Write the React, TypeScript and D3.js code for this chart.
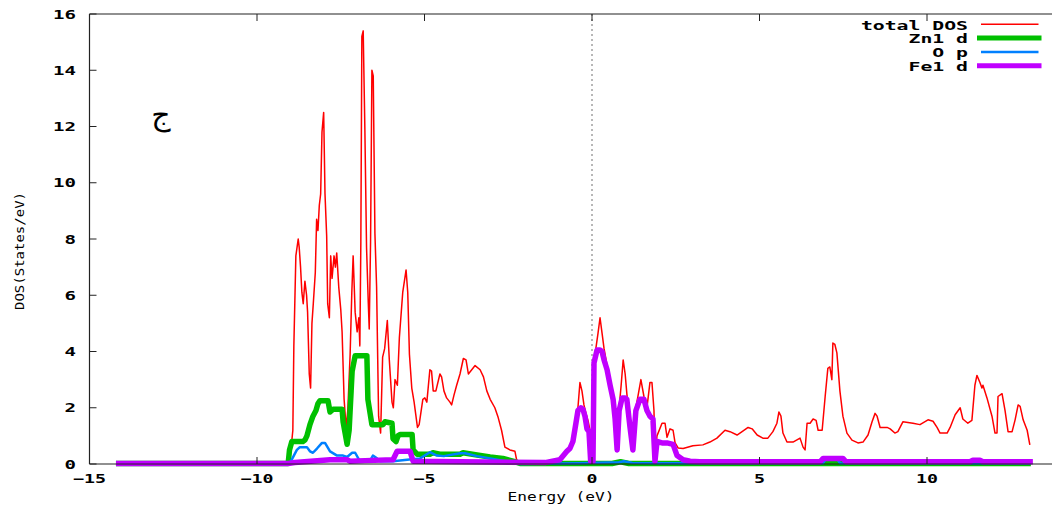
import React from "react";
import * as d3 from "d3";

// [energy (eV), DOS (states/eV)]
const totalDos: [number, number][] = [
  [-14.21, 0], [-9.03, 0], [-8.93, 1.2], [-8.9, 4.2], [-8.84, 7.4], [-8.77, 8.0], [-8.74, 7.7],
  [-8.7, 7.0], [-8.66, 6.1], [-8.62, 5.7], [-8.57, 6.5], [-8.52, 6.0], [-8.49, 5.4], [-8.44, 3.2],
  [-8.4, 2.7], [-8.36, 5.0], [-8.32, 5.7], [-8.26, 6.8], [-8.22, 8.7], [-8.18, 8.3], [-8.14, 9.2],
  [-8.1, 9.6], [-8.06, 11.8], [-8.01, 12.5], [-7.97, 9.6], [-7.92, 8.1], [-7.89, 5.7], [-7.84, 5.2],
  [-7.8, 7.4], [-7.76, 6.6], [-7.7, 7.4], [-7.66, 7.0], [-7.62, 7.5], [-7.56, 6.3], [-7.5, 5.5],
  [-7.46, 4.7], [-7.4, 2.3], [-7.34, 1.3], [-7.29, 1.9], [-7.22, 3.9], [-7.17, 6.1], [-7.13, 7.4],
  [-7.07, 5.4], [-7.01, 4.7], [-6.96, 5.2], [-6.93, 4.2], [-6.9, 7.9], [-6.87, 15.2], [-6.83, 15.4],
  [-6.78, 11.9], [-6.73, 7.7], [-6.68, 5.8], [-6.65, 4.8], [-6.61, 7.9], [-6.57, 14.0], [-6.53, 13.8],
  [-6.48, 8.2], [-6.43, 6.3], [-6.37, 1.7], [-6.31, 1.1], [-6.25, 3.8], [-6.19, 4.1], [-6.11, 5.1],
  [-6.05, 3.7], [-5.97, 2.2], [-5.93, 2.0], [-5.88, 3.0], [-5.81, 2.8], [-5.75, 4.5], [-5.65, 6.1],
  [-5.55, 6.9], [-5.5, 6.1], [-5.45, 3.9], [-5.38, 2.7], [-5.31, 2.2], [-5.21, 1.3], [-5.16, 1.4],
  [-5.05, 2.3], [-4.99, 2.35], [-4.93, 2.2], [-4.84, 3.35], [-4.79, 3.3], [-4.74, 2.6], [-4.66, 2.6],
  [-4.54, 3.2], [-4.49, 3.1], [-4.42, 2.6], [-4.34, 2.35], [-4.24, 2.2], [-4.19, 2.1], [-4.12, 2.45],
  [-4.04, 2.8], [-3.94, 3.2], [-3.84, 3.75], [-3.76, 3.7], [-3.69, 3.2], [-3.59, 3.35], [-3.49, 3.5],
  [-3.34, 3.35], [-3.24, 3.1], [-3.14, 2.6], [-3.04, 2.3], [-2.9, 2.0], [-2.8, 1.65], [-2.7, 1.2],
  [-2.6, 0.6], [-2.45, 0.5], [-2.3, 0.45], [-2.25, 0.15], [-2.15, 0.02], [-1.4, 0.05], [-0.96, 0.15],
  [-0.75, 0.5], [-0.66, 0.6], [-0.57, 0.9], [-0.48, 1.6], [-0.42, 2.0], [-0.36, 2.9], [-0.3, 2.6],
  [-0.24, 2.1], [-0.18, 1.8], [-0.12, 1.55], [-0.06, 1.2], [0.0, 0.15], [0.03, 0.15], [0.06, 3.7],
  [0.12, 4.15], [0.18, 4.65], [0.24, 5.2], [0.3, 4.65], [0.36, 4.1], [0.45, 3.5], [0.54, 3.0],
  [0.63, 2.4], [0.69, 1.7], [0.75, 0.6], [0.81, 2.0], [0.87, 2.8], [0.93, 3.7], [0.99, 3.2],
  [1.04, 2.5], [1.13, 1.45], [1.22, 0.6], [1.31, 2.0], [1.4, 2.6], [1.46, 3.0], [1.55, 2.4],
  [1.64, 2.0], [1.73, 2.9], [1.79, 2.9], [1.85, 1.9], [1.88, 0.2], [1.94, 1.0], [2.09, 1.45],
  [2.18, 1.45], [2.24, 0.95], [2.33, 1.25], [2.42, 1.2], [2.48, 0.75], [2.57, 0.57], [2.72, 0.55],
  [3.01, 0.65], [3.31, 0.68], [3.52, 0.78], [3.73, 0.92], [3.97, 1.2], [4.12, 1.15], [4.33, 1.03],
  [4.48, 1.15], [4.66, 1.3], [4.78, 1.25], [4.93, 1.03], [5.1, 0.92], [5.25, 0.92], [5.4, 1.15],
  [5.52, 1.45], [5.58, 1.85], [5.64, 1.7], [5.7, 1.1], [5.82, 0.78], [6.0, 0.78], [6.21, 0.92],
  [6.3, 0.6], [6.36, 0.5], [6.42, 1.45], [6.51, 1.45], [6.6, 1.6], [6.69, 1.55], [6.75, 1.2],
  [6.87, 1.2], [6.96, 2.4], [7.04, 3.4], [7.1, 3.45], [7.16, 3.0], [7.19, 4.3], [7.25, 4.25],
  [7.31, 3.95], [7.4, 2.6], [7.49, 1.7], [7.61, 1.1], [7.76, 0.85], [7.94, 0.75], [8.09, 0.78],
  [8.24, 1.03], [8.36, 1.5], [8.45, 1.8], [8.51, 1.7], [8.6, 1.3], [8.81, 1.3], [8.9, 1.25],
  [9.04, 1.1], [9.13, 1.15], [9.28, 1.5], [9.58, 1.45], [9.79, 1.4], [10.03, 1.57], [10.18, 1.52],
  [10.3, 1.3], [10.39, 1.1], [10.6, 1.1], [10.69, 1.3], [10.84, 1.75], [10.99, 2.0], [11.07, 1.6],
  [11.22, 1.45], [11.34, 1.55], [11.43, 2.8], [11.49, 3.15], [11.58, 2.9], [11.64, 2.7], [11.67, 2.8],
  [11.79, 2.35], [11.94, 1.7], [12.03, 1.1], [12.09, 1.1], [12.12, 2.4], [12.24, 2.5], [12.33, 1.9],
  [12.42, 1.15], [12.54, 1.15], [12.63, 1.57], [12.72, 2.1], [12.78, 2.05], [12.87, 1.57],
  [12.99, 1.2], [13.07, 0.68],
];

const zn1d: [number, number][] = [
  [-14.21, 0.02], [-9.07, 0.02], [-9.03, 0.5], [-8.96, 0.8], [-8.63, 0.8], [-8.57, 0.85], [-8.51, 1.0],
  [-8.42, 1.4], [-8.33, 1.7], [-8.24, 1.9], [-8.18, 2.15], [-8.12, 2.25], [-7.88, 2.25], [-7.82, 1.85],
  [-7.73, 1.95], [-7.46, 1.95], [-7.43, 1.5], [-7.37, 1.1], [-7.31, 0.7], [-7.25, 1.2], [-7.19, 2.6],
  [-7.16, 3.3], [-7.07, 3.85], [-6.72, 3.85], [-6.69, 2.3], [-6.57, 1.4], [-6.24, 1.4], [-6.18, 1.5],
  [-5.97, 1.45], [-5.94, 0.9], [-5.85, 0.8], [-5.79, 1.0], [-5.73, 1.05], [-5.37, 1.05], [-5.34, 0.5],
  [-5.22, 0.35], [-4.84, 0.35], [-4.75, 0.4], [-4.54, 0.35], [-3.94, 0.35], [-3.85, 0.4], [-3.43, 0.32],
  [-3.04, 0.25], [-2.66, 0.2], [-2.36, 0.1], [-2.15, 0.02], [0.6, 0.02], [0.85, 0.08], [1.1, 0.02],
  [13.1, 0.02],
];

const op: [number, number][] = [
  [-14.21, 0], [-9.03, 0], [-8.9, 0.3], [-8.81, 0.5], [-8.72, 0.6], [-8.51, 0.6], [-8.42, 0.45],
  [-8.33, 0.4], [-8.21, 0.55], [-8.06, 0.75], [-7.97, 0.75], [-7.82, 0.45], [-7.61, 0.3], [-7.43, 0.3],
  [-7.31, 0.25], [-7.16, 0.4], [-7.07, 0.4], [-6.93, 0.1], [-6.63, 0.1], [-6.54, 0.3], [-6.42, 0.2],
  [-6.33, 0.1], [-5.94, 0.1], [-5.52, 0.15], [-5.13, 0.2], [-4.84, 0.42], [-4.63, 0.3], [-4.42, 0.28],
  [-3.94, 0.38], [-3.79, 0.38], [-3.43, 0.28], [-3.04, 0.2], [-2.66, 0.12], [-2.3, 0.04], [-2.15, 0],
  [-0.4, 0.03], [0.8, 0.06], [0.95, 0.1], [1.2, 0.04], [2.0, 0.03], [6.9, 0.03], [7.0, 0.22],
  [7.3, 0.22], [7.4, 0.03], [13.1, 0.02],
];

const fe1d: [number, number][] = [
  [-14.21, 0.02], [-9.07, 0.02], [-8.87, 0.05], [-7.82, 0.15], [-7.31, 0.15], [-7.22, 0.1],
  [-6.78, 0.12], [-5.94, 0.15], [-5.82, 0.45], [-5.43, 0.45], [-5.34, 0.1], [-3.94, 0.08],
  [-1.4, 0.05], [-0.96, 0.15], [-0.75, 0.45], [-0.66, 0.55], [-0.57, 0.8], [-0.48, 1.45], [-0.42, 1.9],
  [-0.33, 2.0], [-0.27, 1.95], [-0.21, 1.7], [-0.15, 1.25], [-0.09, 1.15], [-0.04, 0.1], [0.03, 0.1],
  [0.06, 3.6], [0.15, 4.05], [0.24, 4.05], [0.3, 4.0], [0.36, 3.7], [0.45, 3.35], [0.54, 2.8],
  [0.63, 2.3], [0.69, 1.6], [0.75, 0.5], [0.81, 1.9], [0.9, 2.35], [0.99, 2.35], [1.04, 2.3],
  [1.13, 1.35], [1.22, 0.5], [1.31, 1.9], [1.43, 2.3], [1.55, 2.3], [1.64, 1.9], [1.73, 1.7],
  [1.82, 1.6], [1.88, 0.1], [1.94, 0.8], [2.09, 0.75], [2.24, 0.75], [2.42, 0.7], [2.54, 0.3],
  [2.72, 0.15], [2.93, 0.1], [3.22, 0.08], [6.81, 0.08], [6.9, 0.2], [7.49, 0.2], [7.58, 0.08],
  [11.28, 0.08], [11.37, 0.13], [11.58, 0.13], [11.67, 0.08], [13.16, 0.08],
];

const energyTicks = [-15, -10, -5, 0, 5, 10];
const dosTicks = [0, 2, 4, 6, 8, 10, 12, 14, 16];

const series = [
  { name: "total DOS", data: totalDos, color: "#ff0000", width: 1.5 },
  { name: "Zn1 d", data: zn1d, color: "#00c000", width: 5.5 },
  { name: "O p", data: op, color: "#0080ff", width: 2.5 },
  { name: "Fe1 d", data: fe1d, color: "#c000ff", width: 5.5 },
];

const W = 1052;
const H = 511;
const left = 89.5, right = 1094.5, top = 14, bottom = 464;
const monoFont = "'DejaVu Sans Mono', monospace";

export default function App() {
  const x = d3.scaleLinear().domain([-15, 15]).range([left, right]);
  const y = d3.scaleLinear().domain([0, 16]).range([bottom, top]);
  const line = d3.line<[number, number]>()
    .x(d => x(d[0]))
    .y(d => y(d[1]));

  const fmt = (t: number) => String(t).replace("-", "−");

  return (
    <svg width={W} height={H} style={{ position: "absolute", left: 0, top: 0, background: "#fff" }}>
      <rect x={0} y={0} width={W} height={H} fill="#fff" />

      {/* fermi level */}
      <line x1={x(0)} x2={x(0)} y1={top} y2={bottom} stroke="#a0a0a0" strokeWidth={1.5} strokeDasharray="2,3" />

      {/* curves, legend order = draw order */}
      {series.map(s => (
        <path key={s.name} d={line(s.data) || ""} fill="none" stroke={s.color}
          strokeWidth={s.width} strokeLinejoin="round" />
      ))}

      {/* frame */}
      <line x1={left} x2={W} y1={top} y2={top} stroke="#222" strokeWidth={1.2} />
      <line x1={left} x2={W} y1={bottom} y2={bottom} stroke="#222" strokeWidth={1.2} />
      <line x1={left} x2={left} y1={top} y2={bottom} stroke="#222" strokeWidth={1.2} />

      {/* y ticks */}
      {dosTicks.map(t => (
        <g key={"y" + t}>
          <line x1={left} x2={left + 7} y1={y(t)} y2={y(t)} stroke="#222" strokeWidth={1} />
          <text x={76} y={y(t) + 4.5} textAnchor="end" fontFamily={monoFont} fontWeight="bold"
            fontSize={12} textLength={String(t).length * 11.5} lengthAdjust="spacingAndGlyphs">{t}</text>
        </g>
      ))}

      {/* x ticks */}
      {energyTicks.map(t => (
        <g key={"x" + t}>
          <line x1={x(t)} x2={x(t)} y1={bottom} y2={bottom - 7} stroke="#222" strokeWidth={1} />
          <line x1={x(t)} x2={x(t)} y1={top} y2={top + 7} stroke="#222" strokeWidth={1} />
          <text x={x(t)} y={483} textAnchor="middle" fontFamily={monoFont} fontWeight="bold"
            fontSize={12} textLength={fmt(t).length * 11}
            lengthAdjust="spacingAndGlyphs">{fmt(t)}</text>
        </g>
      ))}

      {/* axis labels */}
      <text x={561} y={501} textAnchor="middle" fontFamily={monoFont} fontSize={13}
        textLength={107} lengthAdjust="spacingAndGlyphs">Energy (eV)</text>
      <text transform="translate(24,251) rotate(-90)" textAnchor="middle" fontFamily={monoFont}
        fontSize={12} textLength={118} lengthAdjust="spacingAndGlyphs">DOS(States/eV)</text>

      {/* legend */}
      {series.map((s, i) => (
        <g key={"leg" + s.name}>
          <text x={968} y={29.5 + i * 13.8} textAnchor="end" fontFamily={monoFont} fontWeight="bold"
            fontSize={12} textLength={s.name.length * 11.9} lengthAdjust="spacingAndGlyphs">{s.name}</text>
          <line x1={s.width > 3 ? 977 : 981} x2={s.width > 3 ? 1041.5 : 1038.5}
            y1={24.3 + i * 13.8} y2={24.3 + i * 13.8} stroke={s.color} strokeWidth={Math.min(s.width, 5)} />
        </g>
      ))}

      {/* panel letter */}
      <text x={161} y={125} textAnchor="middle" fontFamily="'DejaVu Sans', serif" fontSize={30}>ج</text>
    </svg>
  );
}
